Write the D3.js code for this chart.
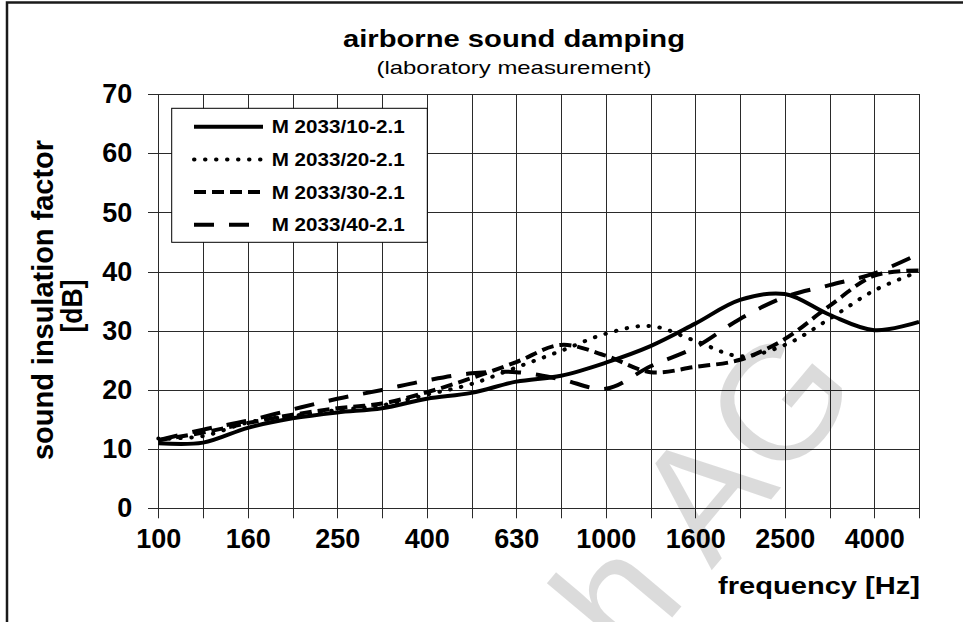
<!DOCTYPE html>
<html><head><meta charset="utf-8">
<script src="https://cdn.jsdelivr.net/npm/d3@7"></script>
<style>
body{margin:0;background:#fff}
svg{display:block}
text{font-family:"Liberation Sans",Arial,sans-serif;fill:#000}
</style>
</head><body>
<svg id="chart" width="963" height="622"></svg>
<script>
// ---- data ----
const bands = ["100","125","160","200","250","315","400","500","630","800","1000","1250","1600","2000","2500","3150","4000","5000"];
const xTickLabels = ["100","160","250","400","630","1000","1600","2500","4000"];
const yTicks = [0,10,20,30,40,50,60,70];
const seriesNames = ["M 2033/10-2.1","M 2033/20-2.1","M 2033/30-2.1","M 2033/40-2.1"];
const m10 = [11.0,11.1,13.6,15.2,16.2,16.9,18.5,19.5,21.4,22.4,24.6,27.4,31.2,35.2,36.2,32.7,30.1,31.5];
const m20 = [11.8,12.2,14.5,15.6,16.6,17.4,19.2,21.0,23.8,26.6,29.5,30.8,28.3,25.7,27.6,32.0,36.8,40.0];
const m30 = [11.5,12.8,14.4,15.8,16.9,17.7,19.6,22.0,24.7,27.6,25.8,23.0,23.9,25.1,28.6,34.2,39.3,40.2];
const m40 = [11.5,13.3,14.8,16.7,18.5,20.0,21.6,22.8,23.0,21.8,20.2,24.0,27.2,32.0,35.7,37.7,39.7,43.0];
const seriesValues = [m10,m20,m30,m40];
const titleText = "airborne sound damping";
const subtitleText = "(laboratory measurement)";
const yLabelLines = ["sound insulation factor","[dB]"];
const xLabelText = "frequency [Hz]";
const watermarkText = "ch AG";

// ---- styles ----
const dashStyles = [null, "0.5,10.5", "12,6", "20,15"];
const legendLineEnd = [263, 263, 260, 249];

// ---- layout ----
const svg = d3.select("#chart");
const x = d3.scalePoint().domain(bands).range([158.3, 919]);
const y = d3.scaleLinear().domain([0,70]).range([508.3, 94]);
const gridColor = "#2a2a2a";

// outer frame
svg.append("rect").attr("x",7).attr("y",2.5).attr("width",990).attr("height",640)
  .attr("fill","none").attr("stroke","#1a1a1a").attr("stroke-width",2.5);

// grid
const grid = svg.append("g");
grid.selectAll("line.h").data(yTicks).join("line")
  .attr("x1",148).attr("x2",919).attr("y1",d=>Math.round(y(d))+0.5).attr("y2",d=>Math.round(y(d))+0.5)
  .attr("stroke",gridColor).attr("stroke-width",1);
grid.selectAll("line.v").data(bands).join("line")
  .attr("x1",d=>Math.round(x(d))+0.5).attr("x2",d=>Math.round(x(d))+0.5)
  .attr("y1",y(70)).attr("y2",y(0)+10)
  .attr("stroke",gridColor).attr("stroke-width",1);

// axes
const xAxis = d3.axisBottom(x).tickSize(0).tickPadding(21)
  .tickFormat(d => xTickLabels.includes(d) ? d : "");
const gx = svg.append("g").attr("transform",`translate(0,${y(0)})`).call(xAxis);
gx.select(".domain").remove();
gx.selectAll("text").attr("font-size",27).attr("font-weight","bold")
  .attr("font-family","'Liberation Sans',Arial,sans-serif").attr("fill","#000");

const yAxis = d3.axisLeft(y).tickValues(yTicks).tickSize(0).tickPadding(26);
const gy = svg.append("g").attr("transform",`translate(158.3,0)`).call(yAxis);
gy.select(".domain").remove();
gy.selectAll("text").attr("font-size",27).attr("font-weight","bold")
  .attr("font-family","'Liberation Sans',Arial,sans-serif").attr("fill","#000");

// series
const line = d3.line().x((d,i)=>x(bands[i])).y(d=>y(d)).curve(d3.curveCatmullRom.alpha(0.5));
seriesValues.forEach((vals,k)=>{
  svg.append("path").datum(vals).attr("d",line)
    .attr("fill","none").attr("stroke","#000").attr("stroke-width",4)
    .attr("stroke-dasharray",dashStyles[k])
    .attr("stroke-linecap", k===1 ? "round" : "butt")
    .attr("stroke-linejoin","round");
});

// watermark
svg.append("text").attr("transform","translate(863,390) rotate(-50)").attr("text-anchor","end")
  .attr("font-size",163).attr("fill","#000").attr("fill-opacity",0.14)
  .style("fill","#000").style("fill-opacity",0.14).text(watermarkText);

// legend
const lg = svg.append("g");
lg.append("rect").attr("x",171.7).attr("y",108.3).attr("width",255.6).attr("height",134)
  .attr("fill","#fff").attr("stroke","#000").attr("stroke-width",1);
seriesNames.forEach((nm,k)=>{
  const cy = 126.7 + k*32.7;
  lg.append("line").attr("x1",194).attr("x2",legendLineEnd[k]).attr("y1",cy).attr("y2",cy)
    .attr("stroke","#000").attr("stroke-width",4)
    .attr("stroke-dasharray",dashStyles[k])
    .attr("stroke-linecap", k===1 ? "round" : "butt");
  lg.append("text").attr("x",271.7).attr("y",cy+6.5).attr("font-size",18).attr("font-weight","bold")
    .attr("textLength",133).attr("lengthAdjust","spacingAndGlyphs").text(nm);
});

// titles
svg.append("text").attr("x",514).attr("y",47).attr("text-anchor","middle")
  .attr("font-size",24).attr("font-weight","bold")
  .attr("textLength",342).attr("lengthAdjust","spacingAndGlyphs").text(titleText);
svg.append("text").attr("x",514).attr("y",74).attr("text-anchor","middle")
  .attr("font-size",19)
  .attr("textLength",275).attr("lengthAdjust","spacingAndGlyphs").text(subtitleText);
svg.append("text").attr("x",920).attr("y",594).attr("text-anchor","end")
  .attr("font-size",23).attr("font-weight","bold")
  .attr("textLength",202).attr("lengthAdjust","spacingAndGlyphs").text(xLabelText);
svg.append("text").attr("transform","translate(53,300) rotate(-90)").attr("text-anchor","middle")
  .attr("font-size",29).attr("font-weight","bold")
  .attr("textLength",320).attr("lengthAdjust","spacingAndGlyphs").text(yLabelLines[0]);
svg.append("text").attr("transform","translate(82,306) rotate(-90)").attr("text-anchor","middle")
  .attr("font-size",29).attr("font-weight","bold")
  .attr("textLength",53).attr("lengthAdjust","spacingAndGlyphs").text(yLabelLines[1]);
</script>
</body></html>
